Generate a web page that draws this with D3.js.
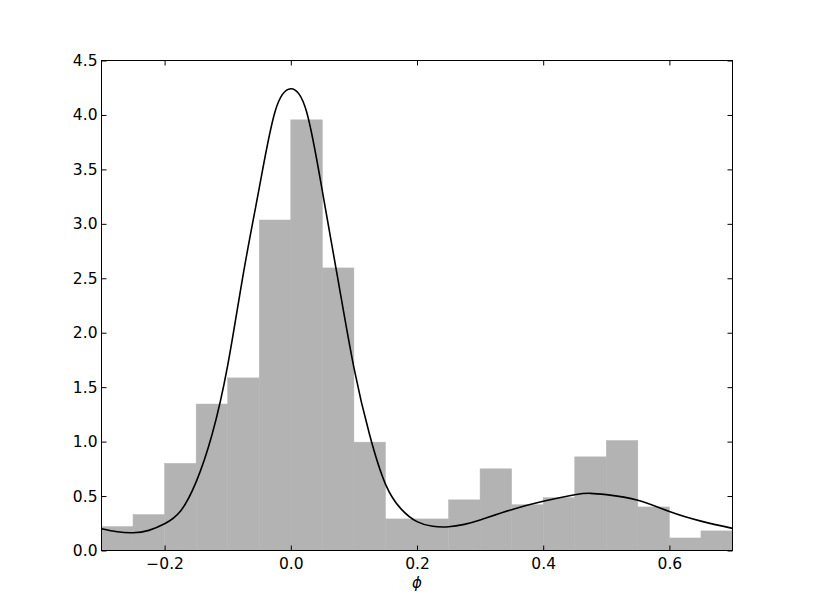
<!DOCTYPE html>
<html>
<head>
<meta charset="utf-8">
<script src="https://cdn.jsdelivr.net/npm/d3@7"></script>
<style>
  body { margin: 0; background: #fff; }
  svg { display: block; }
</style>
</head>
<body>
<svg width="813" height="613"></svg>
<script>
// histogram bin edges and heights (normalised density)
var binEdges = [-0.3, -0.25, -0.2, -0.15, -0.1, -0.05, 0.0, 0.05, 0.1, 0.15, 0.2,
  0.25, 0.3, 0.35, 0.4, 0.45, 0.5, 0.55, 0.6, 0.65, 0.7];
var binHeights = [0.22, 0.33, 0.80, 1.345, 1.585, 3.035, 3.955, 2.595, 0.995, 0.29,
  0.29, 0.465, 0.75, 0.42, 0.485, 0.86, 1.01, 0.40, 0.115, 0.18];

// fitted density curve
var curvePhi = [-0.3, -0.275, -0.25, -0.225, -0.2, -0.175, -0.15, -0.125, -0.1, -0.075,
  -0.05, -0.025, 0.0, 0.025, 0.05, 0.075, 0.1, 0.125, 0.15, 0.175, 0.2, 0.225, 0.25,
  0.275, 0.3, 0.35, 0.4, 0.45, 0.475, 0.5, 0.55, 0.6, 0.65, 0.7];
var curveVal = [0.20, 0.172, 0.163, 0.185, 0.245, 0.36, 0.63, 1.06, 1.70, 2.55,
  3.33, 4.03, 4.24, 4.03, 3.30, 2.48, 1.68, 1.06, 0.61, 0.38, 0.265, 0.222, 0.218,
  0.24, 0.28, 0.375, 0.452, 0.512, 0.525, 0.513, 0.462, 0.358, 0.27, 0.203];

var xTicks = [-0.2, 0.0, 0.2, 0.4, 0.6];
var yTicks = [0.0, 0.5, 1.0, 1.5, 2.0, 2.5, 3.0, 3.5, 4.0, 4.5];

var svg = d3.select('svg');
var mLeft = 101.5, mRight = 732.5, mTop = 60.5, mBottom = 550.5;

var x = d3.scaleLinear().domain([-0.3, 0.7]).range([mLeft, mRight]);
var y = d3.scaleLinear().domain([0, 4.5]).range([mBottom, mTop]);

var fmt = function (d) { return d3.format('.1f')(d).replace('-', '\u2212'); };

// bars
svg.append('g')
  .selectAll('rect')
  .data(binHeights)
  .enter()
  .append('rect')
  .attr('x', (d, i) => x(binEdges[i]))
  .attr('width', (d, i) => x(binEdges[i + 1]) - x(binEdges[i]))
  .attr('y', (d) => y(d))
  .attr('height', (d) => y(0) - y(d))
  .attr('fill', '#b3b3b3')
  .attr('stroke', '#b3b3b3')
  .attr('stroke-width', 0.5);

// curve
var line = d3.line()
  .x((d, i) => x(curvePhi[i]))
  .y((d) => y(d))
  .curve(d3.curveNatural);

svg.append('path')
  .datum(curveVal)
  .attr('d', line)
  .attr('fill', 'none')
  .attr('stroke', '#000')
  .attr('stroke-width', 1.6);

// axes, ticks pointing inward
svg.append('g')
  .attr('transform', 'translate(0,' + mBottom + ')')
  .call(d3.axisBottom(x).tickValues(xTicks).tickFormat(fmt).tickSizeInner(-5).tickSizeOuter(0).tickPadding(7));
svg.append('g')
  .attr('transform', 'translate(0,' + mTop + ')')
  .call(d3.axisTop(x).tickValues(xTicks).tickFormat('').tickSizeInner(-5).tickSizeOuter(0));
svg.append('g')
  .attr('transform', 'translate(' + mLeft + ',0)')
  .call(d3.axisLeft(y).tickValues(yTicks).tickFormat(fmt).tickSizeInner(-5).tickSizeOuter(0).tickPadding(4));
svg.append('g')
  .attr('transform', 'translate(' + mRight + ',0)')
  .call(d3.axisRight(y).tickValues(yTicks).tickFormat('').tickSizeInner(-5).tickSizeOuter(0));

svg.selectAll('.domain').remove();
svg.selectAll('.tick line').attr('stroke', '#000');
svg.selectAll('.tick text')
  .attr('fill', '#000')
  .style('font-family', '"DejaVu Sans", sans-serif')
  .style('font-size', '15.5px');

// frame
svg.append('rect')
  .attr('x', mLeft)
  .attr('y', mTop)
  .attr('width', mRight - mLeft)
  .attr('height', mBottom - mTop)
  .attr('fill', 'none')
  .attr('stroke', '#000')
  .attr('stroke-width', 1);

// x label
svg.append('text')
  .attr('x', (mLeft + mRight) / 2)
  .attr('y', 588)
  .attr('text-anchor', 'middle')
  .style('font', 'italic 15px "DejaVu Sans"')
  .text('\u03d5');
</script>
</body>
</html>
